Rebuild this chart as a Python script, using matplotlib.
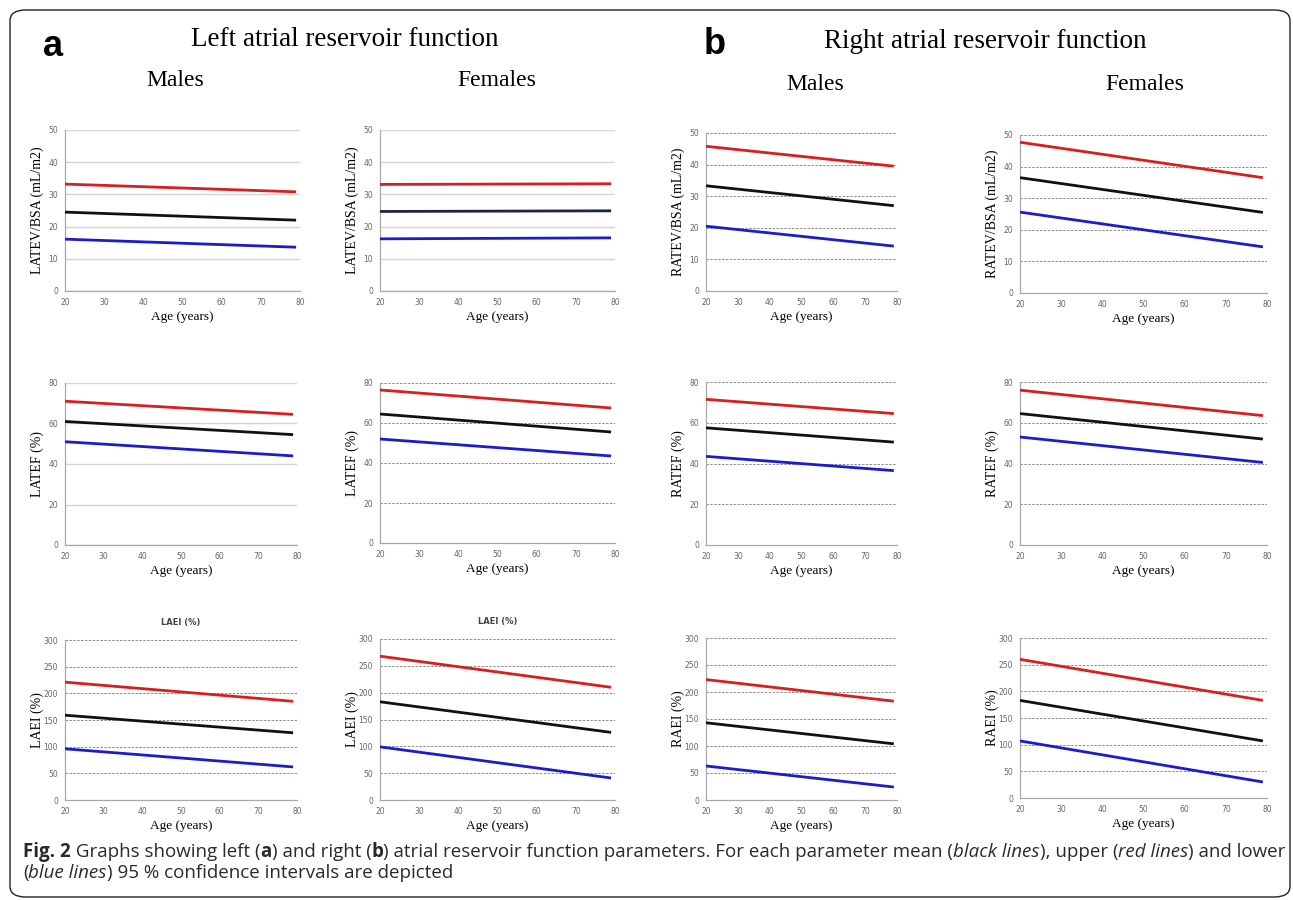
import matplotlib
matplotlib.use('Agg')
import matplotlib.pyplot as plt
from matplotlib.patches import FancyBboxPatch

# x values: lines run from age 20 to ~79
age = [20, 79]

# each panel: [upper 95% CI, mean, lower 95% CI], values at start / end
latev_males = [[33.2, 30.8], [24.5, 22.0], [16.1, 13.6]]
latev_females = [[33.1, 33.3], [24.7, 24.9], [16.2, 16.5]]
ratev_males = [[45.8, 39.5], [33.3, 27.0], [20.5, 14.2]]
ratev_females = [[47.7, 36.5], [36.5, 25.5], [25.6, 14.6]]

latef_males = [[71.0, 64.5], [61.0, 54.5], [51.0, 44.0]]
latef_females = [[76.5, 67.5], [64.5, 55.5], [52.0, 43.5]]
ratef_males = [[71.5, 64.5], [57.5, 50.5], [43.5, 36.5]]
ratef_females = [[76.0, 63.5], [64.5, 52.0], [53.0, 40.5]]

laei_males = [[221, 185], [159, 126], [96, 62]]
laei_females = [[268, 210], [183, 126], [99, 41]]
raei_males = [[223, 183], [143, 104], [63, 24]]
raei_females = [[260, 183], [183, 107], [107, 30]]

x_ticks = [20, 30, 40, 50, 60, 70, 80]
tev_ticks = [0, 10, 20, 30, 40, 50]
tef_ticks = [0, 20, 40, 60, 80]
ei_ticks = [0, 50, 100, 150, 200, 250, 300]

W, H = 1293, 900
fig = plt.figure(figsize=(W / 100, H / 100), dpi=100)
SERIF = 'Liberation Serif'


def box(l, t, r, b):
    return [l / W, 1 - b / H, (r - l) / W, (b - t) / H]


def panel(rect, series, ticks, ylabel, dashed, mean_color='#111111', title=None):
    ax = fig.add_axes(box(*rect))
    l, t, r, b = rect
    for vals, c in zip(series, ['#d81e1e', mean_color, '#1c1ccc']):
        ax.plot(age, vals, color=c, lw=2.0, solid_capstyle='butt', zorder=3)
    ax.set_xlim(20, 80)
    ax.set_ylim(ticks[0], ticks[-1])
    ax.set_xticks(x_ticks)
    ax.set_yticks(ticks)
    if dashed:
        ax.yaxis.grid(True, color='#8a8a8a', lw=0.7, ls=(0, (2.5, 1.5)))
    else:
        ax.yaxis.grid(True, color='#d4d4d4', lw=1.0)
    ax.set_axisbelow(True)
    for s in ['top', 'right']:
        ax.spines[s].set_visible(False)
    for s in ['left', 'bottom']:
        ax.spines[s].set_color('#a8a8a8')
        ax.spines[s].set_linewidth(0.9)
    ax.tick_params(length=0, labelsize=5.5, labelcolor='#666666', pad=5)
    ax.set_xlabel('Age (years)', family=SERIF, fontsize=9.5)
    ax.set_ylabel(ylabel, family=SERIF, fontsize=10)
    ax.xaxis.set_label_coords(0.5, -20 / (b - t))
    ax.yaxis.set_label_coords(-21 / (r - l), 0.5)
    if title:
        ax.set_title(title, fontsize=6, fontweight='bold', color='#444444', pad=11)
    return ax


# row 1
panel((65, 130, 300, 291), latev_males, tev_ticks, 'LATEV/BSA (mL/m2)', False)
panel((380, 130, 615, 291), latev_females, tev_ticks, 'LATEV/BSA (mL/m2)', False,
      mean_color='#1a2540')
panel((706, 133, 897, 291), ratev_males, tev_ticks, 'RATEV/BSA (mL/m2)', True)
panel((1020, 135, 1267, 293), ratev_females, tev_ticks, 'RATEV/BSA (mL/m2)', True)

# row 2
panel((65, 383, 297, 545), latef_males, tef_ticks, 'LATEF (%)', False)
panel((380, 383, 615, 543), latef_females, tef_ticks, 'LATEF (%)', True)
panel((706, 382, 897, 545), ratef_males, tef_ticks, 'RATEF (%)', True)
panel((1020, 382, 1267, 545), ratef_females, tef_ticks, 'RATEF (%)', True)

# row 3
panel((65, 640, 297, 800), laei_males, ei_ticks, 'LAEI (%)', True, title='LAEI (%)')
panel((380, 639, 615, 800), laei_females, ei_ticks, 'LAEI (%)', True, title='LAEI (%)')
panel((706, 638, 897, 800), raei_males, ei_ticks, 'RAEI (%)', True)
panel((1020, 638, 1267, 798), raei_females, ei_ticks, 'RAEI (%)', True)

# frame
frame = FancyBboxPatch((10 / W, 1 - 897 / H), 1280 / W, 887 / H,
                       boxstyle='round,pad=0,rounding_size=0.012',
                       transform=fig.transFigure, fill=False,
                       ec='#222222', lw=1.0)
fig.patches.append(frame)


def ftext(x, y, s, **kw):
    return fig.text(x / W, 1 - y / H, s, **kw)


# headers
ftext(53, 47, 'a', fontsize=26, fontweight='bold', family='Liberation Sans',
      ha='center', va='center')
ftext(715, 45, 'b', fontsize=26, fontweight='bold', family='Liberation Sans',
      ha='center', va='center')
ftext(345, 39, 'Left atrial reservoir function', family=SERIF, fontsize=19.5,
      ha='center', va='center')
ftext(985, 41, 'Right atrial reservoir function', family=SERIF, fontsize=19.5,
      ha='center', va='center')
ftext(175, 81, 'Males', family=SERIF, fontsize=17, ha='center', va='center')
ftext(497, 81, 'Females', family=SERIF, fontsize=17, ha='center', va='center')
ftext(815, 84, 'Males', family=SERIF, fontsize=17, ha='center', va='center')
ftext(1145, 84, 'Females', family=SERIF, fontsize=17, ha='center', va='center')

# caption with mixed styles
cap1 = [('Fig. 2', 'bold', 'normal'), (' Graphs showing left (', 'normal', 'normal'),
        ('a', 'bold', 'normal'), (') and right (', 'normal', 'normal'),
        ('b', 'bold', 'normal'),
        (') atrial reservoir function parameters. For each parameter mean (', 'normal', 'normal'),
        ('black lines', 'normal', 'italic'), ('), upper (', 'normal', 'normal'),
        ('red lines', 'normal', 'italic'), (') and lower', 'normal', 'normal')]
cap2 = [('(', 'normal', 'normal'), ('blue lines', 'normal', 'italic'),
        (') 95 % confidence intervals are depicted', 'normal', 'normal')]

fig.canvas.draw()
renderer = fig.canvas.get_renderer()
CAP_FONT = 'Open Sans'


def caption_line(parts, x0, y, size, draw=True):
    x = x0
    for s, w, st in parts:
        t = ftext(x, y, s, fontsize=size, family=CAP_FONT, fontweight=w,
                  style=st, color='#2a2a2a', ha='left', va='center')
        x += t.get_window_extent(renderer).width
        if not draw:
            t.remove()
    return x - x0


# fit the first caption line to the frame width
base = caption_line(cap1, 23, 852, 10, draw=False)
cap_size = 10 * (1285 - 23) / base
caption_line(cap1, 23, 852, cap_size)
caption_line(cap2, 23, 873, cap_size)

fig.savefig('out.png', dpi=100)
